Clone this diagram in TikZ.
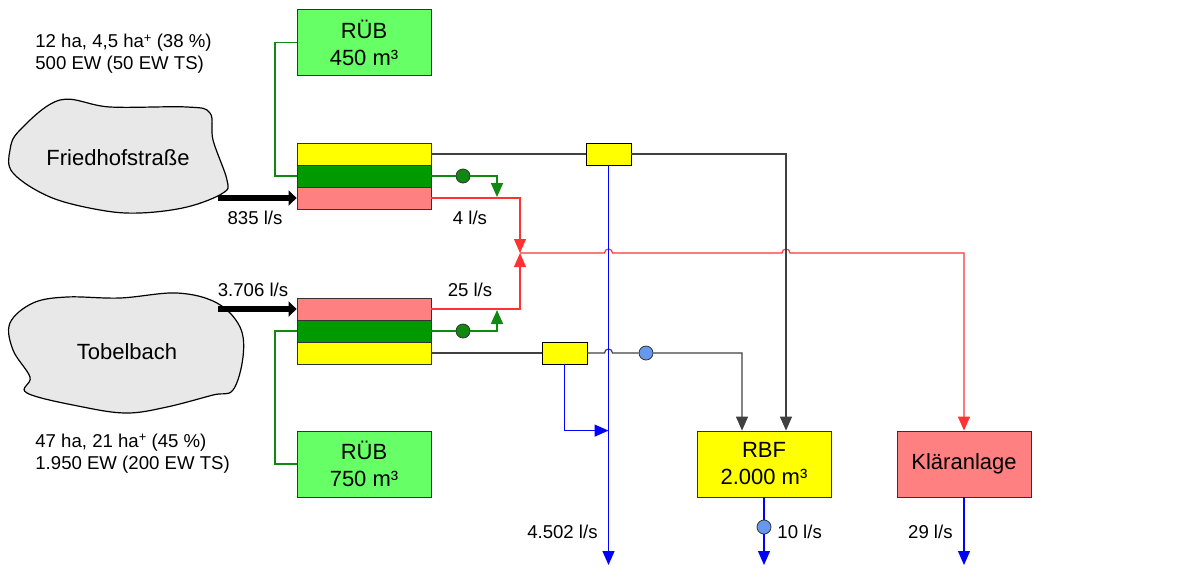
\documentclass[tikz,border=0pt]{standalone}
\usepackage{fontspec}
\setmainfont{Liberation Sans}
\usetikzlibrary{arrows.meta,positioning,calc}

\definecolor{rubgreen}{HTML}{66FF66}
\definecolor{bargreen}{HTML}{009900}
\definecolor{barpink}{HTML}{FF8080}
\definecolor{baryellow}{HTML}{FFFF00}
\definecolor{cloudgray}{HTML}{E8E8E8}
\definecolor{pumpblue}{HTML}{6699EE}
\definecolor{linegreen}{HTML}{118811}
\definecolor{linered}{HTML}{FF3333}
\definecolor{linegray}{HTML}{404040}

\newcommand{\haplus}{\raisebox{0.55ex}{\fontsize{6.5}{6.5}\selectfont+}}

\tikzset{
  box/.style={draw=black!80, fill=#1, minimum width=67pt, minimum height=33pt, inner sep=0pt, align=center, font=\fontsize{11}{13.5}\selectfont},
  bar/.style={draw=black!80, fill=#1, minimum width=67pt, minimum height=11pt, inner sep=0pt},
  valve/.style={draw=black, fill=baryellow, minimum width=22.5pt, minimum height=11pt, inner sep=0pt},
  dot/.style={circle, draw=black!80, fill=#1, minimum size=7pt, inner sep=0pt},
  lbl/.style={font=\fontsize{9.3}{11}\selectfont, inner sep=0pt},
  gline/.style={draw=linegreen, line width=0.9pt},
  rline/.style={draw=linered, line width=0.6pt},
  kline/.style={draw=linegray, line width=0.6pt},
  bline/.style={draw=blue, line width=0.6pt},
  flowtip/.style={-{Triangle[length=7pt,width=6pt]}},
  inflow/.style={line width=3pt, -{Triangle[length=4pt,width=7.5pt]}},
}

\begin{document}
\begin{tikzpicture}[x=0.5pt, y=-0.5pt]
\useasboundingbox (0,0) rectangle (1203,574);

% catchments
\draw[fill=cloudgray, line width=0.6pt] plot[smooth cycle, tension=0.6] coordinates {
  (20,130) (60,100) (110,107) (187,107) (210,113) (213,140) (227,180) (223,193)
  (187,207) (140,213) (100,210) (50,197) (13,173) (10,150)};
\node[font=\fontsize{11}{13.5}\selectfont] (fried) at (118,158) {Friedhofstraße};
\coordinate (friedout) at (218,198);

\draw[fill=cloudgray, line width=0.6pt] plot[smooth cycle, tension=0.6] coordinates {
  (10,323) (33,303) (67,297) (120,298) (177,293) (217,303) (240,327) (243,357)
  (233,390) (213,395) (167,407) (127,413) (83,407) (27,393) (30,377) (13,350)};
\node[font=\fontsize{11}{13.5}\selectfont] (tobel) at (127,352) {Tobelbach};
\coordinate (tobelout) at (218,309);

\node[lbl, anchor=west, align=left] (info1) at (35,54) {12 ha, 4,5 ha\haplus\ (38 \%)\\500 EW (50 EW TS)};
\node[lbl, anchor=west, align=left] (info2) at (35,453.5) {47 ha, 21 ha\haplus\ (45 \%)\\1.950 EW (200 EW TS)};

% basins and plants
\node[box=rubgreen] (rub1) at (364,42.5) {RÜB\\450 m³};
\node[box=rubgreen] (rub2) at (364,464) {RÜB\\750 m³};
\node[box=baryellow] (rbf) at (764,464) {RBF\\2.000 m³};
\node[box=barpink] (kla) at (964,464) {Kläranlage};

% split structures
\node[bar=baryellow] (ybar1) at (364,154) {};
\node[bar=bargreen] (gbar1) at (364,176) {};
\node[bar=barpink] (pbar1) at (364,198) {};
\node[bar=barpink] (pbar2) at (364,309) {};
\node[bar=bargreen] (gbar2) at (364,331) {};
\node[bar=baryellow] (ybar2) at (364,353) {};

\node[valve] (v1) at (608.5,154) {};
\node[valve] (v2) at (564.5,353) {};

\node[dot=linegreen] (gdot1) at (463,176) {};
\node[dot=linegreen] (gdot2) at (463,331) {};
\node[dot=pumpblue] (pump2) at (646,353) {};
\node[dot=pumpblue] (bdot) at (764,527) {};

\coordinate (junc) at (520,253);
\coordinate (gend1) at (497,197);
\coordinate (gend2) at (497,310);
\coordinate (rbfin1) at ([xshift=-11pt]rbf.north);
\coordinate (rbfin2) at ([xshift=11pt]rbf.north);
\coordinate (out1) at (608.5,565);
\coordinate (out2) at (764,565);
\coordinate (out3) at (964,565);

% inflows
\draw[inflow] (friedout) -- (pbar1.west);
\draw[inflow] (tobelout) -- (pbar2.west);
\node[lbl] (q835) at (255,218) {835 l/s};
\node[lbl] (q3706) at (253,290) {3.706 l/s};

% storage tanks
\draw[gline] (rub1.west) -- ([xshift=-11pt]rub1.west) |- (gbar1.west);
\draw[gline] (rub2.west) -- ([xshift=-11pt]rub2.west) |- (gbar2.west);
\draw[gline, flowtip] (gbar1.east) -- (gdot1) -| (gend1);
\draw[gline, flowtip] (gbar2.east) -- (gdot2) -| (gend2);

% throttled flow to treatment plant
\draw[rline, flowtip] (pbar1.east) -| (junc);
\draw[rline, flowtip] (pbar2.east) -| (junc);
\draw[rline, flowtip] (junc) -- ([xshift=-2pt]v1.south |- junc) arc[start angle=180, end angle=0, radius=2pt]
  -- ([xshift=-2pt]rbfin2 |- junc) arc[start angle=180, end angle=0, radius=2pt] -| (kla.north);
\node[lbl] (q4) at (470,218) {4 l/s};
\node[lbl] (q25) at (470,290) {25 l/s};

% overflows
\draw[kline] (ybar1.east) -- (v1.west);
\draw[kline, flowtip] (v1.east) -| (rbfin2);
\draw[kline] (ybar2.east) -- (v2.west);
\draw[kline, flowtip] (v2.east) -- ([xshift=-2pt]v1.south |- v2.east) arc[start angle=180, end angle=0, radius=2pt]
  -- (pump2) -| (rbfin1);
\draw[bline, flowtip] (v1.south) -- (out1);
\draw[bline, flowtip] (v2.south) |- (v1.south |- rbf.north);
\draw[bline, flowtip] (rbf.south) -- (bdot) -- (out2);
\draw[bline, flowtip] (kla.south) -- (out3);
\node[lbl, anchor=east] (q4502) at (598,532) {4.502 l/s};
\node[lbl, anchor=west] (q10) at (777,532) {10 l/s};
\node[lbl, anchor=east] (q29) at (953,532) {29 l/s};
\end{tikzpicture}
\end{document}
